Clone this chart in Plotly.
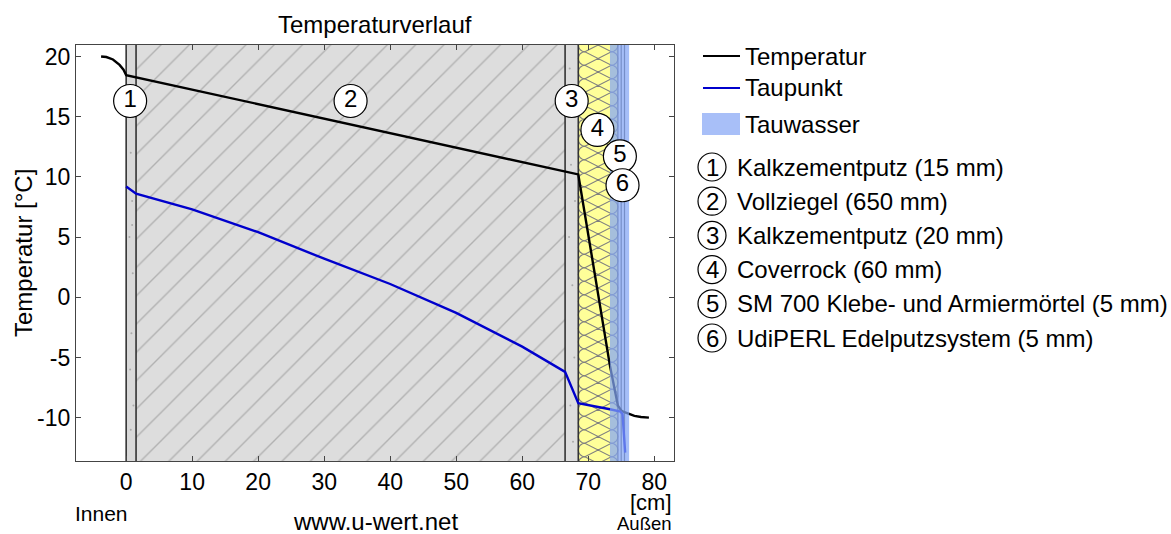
import math
import plotly.graph_objects as go

W, H = 1171, 534
L, R, T, B = 76, 674, 45, 461
FONT = "Liberation Sans, Arial, sans-serif"

x_temp = [-3.8, -3, -2, -1, -0.4, 0, 68.5, 73.3, 74.5, 75, 75.5, 76.2, 77, 78, 79.2]
y_temp = [20, 19.95, 19.75, 19.3, 18.9, 18.45, 10.2, -5.7, -9.0, -9.4, -9.55, -9.7, -9.85, -9.95, -10]
x_dew = [0, 1.5, 10, 20, 30, 40, 50, 60, 66.5, 68.5, 73.3, 74.9, 75.2, 75.6]
y_dew = [9.2, 8.6, 7.3, 5.4, 3.2, 1.1, -1.3, -4.1, -6.2, -8.8, -9.3, -9.5, -9.7, -12.9]

layer_edges = [0, 1.5, 66.5, 68.5, 74.5, 75.0, 75.5]
condensate = [73.3, 76.2]
badge_x = [0.6, 34, 67.5, 71.4, 74.8, 75.2]
badge_y = [16.3, 16.3, 16.3, 13.9, 11.7, 9.3]
badge_labels = ["1", "2", "3", "4", "5", "6"]
layer_names = ["Kalkzementputz (15 mm)", "Vollziegel (650 mm)", "Kalkzementputz (20 mm)",
               "Coverrock (60 mm)", "SM 700 Klebe- und Armiermörtel (5 mm)",
               "UdiPERL Edelputzsystem (5 mm)"]
x_ticks = [0, 10, 20, 30, 40, 50, 60, 70, 80]
y_ticks = [-10, -5, 0, 5, 10, 15, 20]
y_tick_labels = ["-10", "-5", "0", "5", "10", "15", "20"]
x_range = [-7.6, 83]
y_range = [-13.6, 20.95]
YB, YT = y_range[0], y_range[1]

def rect(x0, x1, **kw):
    return go.Scatter(x=[x0, x1, x1, x0, x0], y=[YB, YB, YT, YT, YB], mode="lines",
                      fill="toself", line=dict(width=0), hoverinfo="skip", showlegend=False, **kw)

fig = go.Figure()
E = layer_edges
fig.add_trace(rect(E[0], E[1], fillcolor="#d9d9d9"))
fig.add_trace(rect(E[1], E[2], fillcolor="#dddddd",
                   fillpattern=dict(shape="/", size=20, solidity=0.07, fgcolor="#858585", bgcolor="#dddddd")))
fig.add_trace(rect(E[2], E[3], fillcolor="#dddddd"))
fig.add_trace(rect(E[3], E[4], fillcolor="#ffff99"))

# mineral wool hatching: a stack of bow-ties with rounded ends
px_y = (B - T) / (YT - YB)
bulge = 1.0
lo, hi = E[3] + bulge, E[4] - bulge
p = 13.5 / px_y
wx, wy = [], []
yc = YT + p
while yc > YB - p:
    for k in range(9):
        a = math.pi * k / 8
        wx.append(lo - bulge * math.sin(a)); wy.append(yc - p / 2 * math.cos(a))
    for k in range(9):
        a = math.pi * k / 8
        wx.append(hi + bulge * math.sin(a)); wy.append(yc - p / 2 * math.cos(a))
    wx.append(lo); wy.append(yc - p / 2)
    wx.append(None); wy.append(None)
    yc -= p
fig.add_trace(go.Scatter(x=wx, y=wy, mode="lines", line=dict(color="#808080", width=1.1),
                         hoverinfo="skip", showlegend=False))

# speckle in the plaster layers
sx = [0.7, 0.9, 0.5, 1.0, 0.8, 0.6, 1.1, 0.7, 0.9, 67.2, 67.8, 67.4, 68.0, 67.1, 67.6, 67.9, 67.3, 67.7]
sy = [12, 8, 5, 2, -3, -6, -9, -11, 6, 19, 17, 11, 8, 5, 1, -5, -9, -12]
fig.add_trace(go.Scatter(x=sx, y=sy, mode="markers", marker=dict(size=2, color="#aaaaaa"),
                         hoverinfo="skip", showlegend=False))

# layer edges
for e in E[:4]:
    fig.add_trace(go.Scatter(x=[e, e], y=[YB, YT], mode="lines", line=dict(color="#333333", width=1.6),
                             hoverinfo="skip", showlegend=False))
for e in E[4:]:
    fig.add_trace(go.Scatter(x=[e, e], y=[YB, YT], mode="lines", line=dict(color="#555555", width=1.2),
                             hoverinfo="skip", showlegend=False))

fig.add_trace(go.Scatter(x=x_temp, y=y_temp, mode="lines", name="Temperatur",
                         line=dict(color="black", width=2.4), showlegend=False))
fig.add_trace(go.Scatter(x=x_dew, y=y_dew, mode="lines", name="Taupunkt",
                         line=dict(color="#0000cc", width=2.4), showlegend=False))
fig.add_trace(rect(condensate[0], condensate[1], fillcolor="rgba(130,165,245,0.72)", name="Tauwasser"))

fig.add_trace(go.Scatter(x=badge_x, y=badge_y, mode="markers+text", text=badge_labels,
                         textposition="middle center", textfont=dict(family=FONT, size=24, color="black"),
                         marker=dict(size=33, color="white", line=dict(color="black", width=1.2)),
                         hoverinfo="skip", showlegend=False, cliponaxis=False))

def px(x): return (x - L) / (R - L)
def py(y): return (B - y) / (B - T)

shapes, ann = [], []
def text(x, y, s, size=24, anchor="left", angle=0):
    ann.append(dict(text=s, x=px(x), y=py(y), xref="paper", yref="paper", showarrow=False, textangle=angle,
                    xanchor=anchor, yanchor="middle", font=dict(family=FONT, size=size, color="black")))

def hline(y, color):
    shapes.append(dict(type="line", xref="paper", yref="paper", x0=px(703), x1=px(740), y0=py(y), y1=py(y),
                       line=dict(color=color, width=2)))
hline(56, "black"); text(743, 56, "Temperatur")
hline(88, "#0000cc"); text(743, 88, "Taupunkt")
shapes.append(dict(type="rect", xref="paper", yref="paper", x0=px(702), x1=px(740), y0=py(113), y1=py(135),
                   fillcolor="#a8bff8", line=dict(width=0)))
text(743, 124, "Tauwasser")

for i, name in enumerate(layer_names):
    yy = 167 + i * 34.2
    shapes.append(dict(type="circle", xref="paper", yref="paper", x0=px(698), x1=px(726), y0=py(yy - 14), y1=py(yy + 14),
                       fillcolor="white", line=dict(color="black", width=1.2)))
    text(712, yy, badge_labels[i], 24, "center")
    text(735, yy, name)

text(375, 25, "Temperaturverlauf", 24, "center")
text(23, 253, "Temperatur [°C]", 24, "center", -90)
text(101, 513, "Innen", 21, "center")
text(375, 521, "www.u-wert.net", 24, "center")
text(651, 502, "[cm]", 22, "center")
text(644, 523, "Außen", 18.5, "center")

axis = dict(showgrid=False, zeroline=False, ticks="inside", ticklen=5, tickwidth=1.2, tickcolor="#444444",
            showline=True, linecolor="#444444", linewidth=1.2, mirror="allticks",
            tickfont=dict(family=FONT, size=23, color="black"))
fig.update_layout(
    width=W, height=H, margin=dict(l=L, r=W - R, t=T, b=H - B),
    paper_bgcolor="white", plot_bgcolor="white", showlegend=False,
    xaxis=dict(range=x_range, tickvals=x_ticks, **axis),
    yaxis=dict(range=y_range, tickvals=y_ticks, ticktext=y_tick_labels, **axis),
    shapes=shapes, annotations=ann,
)
fig.write_html("out.html", config=dict(displayModeBar=False), post_script="document.body.style.margin='0';")
